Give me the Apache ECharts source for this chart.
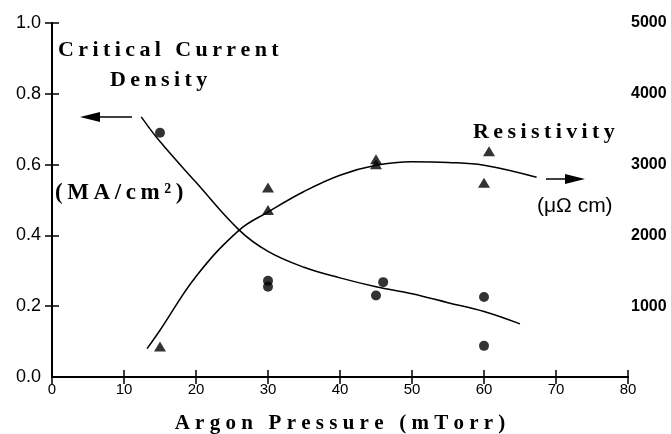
<!DOCTYPE html>
<html>
<head>
<meta charset="utf-8">
<script src="https://cdn.jsdelivr.net/npm/echarts@6/dist/echarts.min.js"></script>
<style>
  html, body { margin: 0; padding: 0; background: #fff; }
  #chart { width: 671px; height: 434px; }
</style>
</head>
<body>
<div id="chart"></div>
<script>
// measured points
const densityX = [15, 30, 30, 45, 46, 60, 60];
const densityY = [0.69, 0.272, 0.255, 0.23, 0.268, 0.226, 0.088];
const resistX = [15, 30, 30, 45, 45, 60, 60.7];
const resistY = [430, 2675, 2360, 3075, 3005, 2745, 3190];

// hand-drawn fit curves
const densityFitX = [12.4, 15, 20, 26, 30, 35, 40, 45, 50, 55, 60, 65];
const densityFitY = [0.735, 0.665, 0.55, 0.415, 0.355, 0.31, 0.28, 0.255, 0.235, 0.21, 0.185, 0.15];
const resistFitX = [13.2, 15, 20, 26, 30, 35, 40, 45, 50, 55, 60, 67.3];
const resistFitY = [400, 660, 1420, 2075, 2330, 2620, 2850, 2990, 3040, 3030, 2990, 2820];

const pressureTicks = [0, 10, 20, 30, 40, 50, 60, 70, 80];

const zip = (a, b) => a.map((v, i) => [v, b[i]]);
// the original lettering is widely spaced, fake it with narrow spaces
const spaced = (s, sep) => s.split("").join(sep || "\u2009");

const chart = echarts.init(document.getElementById("chart"));

const axisLine = { lineStyle: { color: "#000", width: 2 } };
const tick = { inside: true, length: 7, lineStyle: { color: "#000", width: 1.5 } };
const sans = "Liberation Sans";
const serif = "Liberation Serif";

const option = {
  backgroundColor: "#fff",
  animation: false,
  grid: { left: 52, right: 43, top: 23, bottom: 57, containLabel: false, outerBoundsMode: "none" },
  xAxis: [
    {
      type: "value",
      min: pressureTicks[0],
      max: pressureTicks[pressureTicks.length - 1],
      interval: 10,
      axisLine: axisLine,
      axisTick: tick,
      splitLine: { show: false },
      axisLabel: { color: "#000", fontSize: 15, fontFamily: sans, margin: 5 },
      name: spaced("Argon Pressure (mTorr)", "\u2005"),
      nameLocation: "middle",
      nameGap: 36,
      nameTextStyle: { color: "#000", fontSize: 21, fontFamily: serif, fontWeight: "bold" }
    },
    {
      type: "value",
      position: "top",
      min: 0,
      max: 80,
      interval: 10,
      axisLine: axisLine,
      axisTick: tick,
      axisLabel: { show: false },
      splitLine: { show: false }
    }
  ],
  yAxis: [
    {
      type: "value",
      min: 0,
      max: 1,
      interval: 0.2,
      axisLine: { show: true, lineStyle: { color: "#000", width: 2 } },
      axisTick: { show: true, inside: true, length: 7, lineStyle: { color: "#000", width: 1.5 } },
      splitLine: { show: false },
      axisLabel: {
        color: "#000", fontSize: 18, fontFamily: sans, margin: 11,
        formatter: v => v.toFixed(1)
      }
    },
    {
      type: "value",
      position: "right",
      min: 0,
      max: 5000,
      interval: 1000,
      axisLine: { show: true, lineStyle: { color: "#000", width: 2 } },
      axisTick: { show: true, inside: true, length: 7, lineStyle: { color: "#000", width: 1.5 } },
      splitLine: { show: false },
      axisLabel: {
        color: "#000", fontSize: 16, fontFamily: sans, fontWeight: "bold", margin: 3,
        showMinLabel: false,
        formatter: v => String(v)
      }
    }
  ],
  series: [
    {
      type: "line",
      data: zip(densityFitX, densityFitY),
      smooth: 0.4,
      showSymbol: false,
      lineStyle: { color: "#000", width: 1.5 },
      z: 2
    },
    {
      type: "line",
      yAxisIndex: 1,
      data: zip(resistFitX, resistFitY),
      smooth: 0.4,
      showSymbol: false,
      lineStyle: { color: "#000", width: 1.5 },
      z: 2
    },
    {
      type: "scatter",
      data: zip(densityX, densityY),
      symbol: "circle",
      symbolSize: 10,
      itemStyle: { color: "#000" },
      z: 3
    },
    {
      type: "scatter",
      yAxisIndex: 1,
      data: zip(resistX, resistY),
      symbol: "triangle",
      symbolSize: [12, 10],
      itemStyle: { color: "#000" },
      z: 3
    }
  ],
  graphic: [
    { type: "text", left: 58, top: 39, style: { text: spaced("Critical Current"), font: "bold 22px " + serif, fill: "#000" } },
    { type: "text", left: 110, top: 69, style: { text: spaced("Density"), font: "bold 22px " + serif, fill: "#000" } },
    { type: "text", left: 55, top: 182, style: { text: spaced("(MA/cm²)"), font: "bold 23px " + serif, fill: "#000" } },
    { type: "text", left: 473, top: 121, style: { text: spaced("Resistivity"), font: "bold 22px " + serif, fill: "#000" } },
    { type: "text", left: 537, top: 196, style: { text: "(μΩ cm)", font: "21px " + sans, fill: "#000" } },
    // left arrow
    { type: "line", shape: { x1: 132, y1: 117, x2: 98, y2: 117 }, style: { stroke: "#000", lineWidth: 1.5 } },
    { type: "polygon", shape: { points: [[80, 117], [100, 112], [100, 122]] }, style: { fill: "#000" } },
    // right arrow
    { type: "line", shape: { x1: 546, y1: 179, x2: 568, y2: 179 }, style: { stroke: "#000", lineWidth: 1.5 } },
    { type: "polygon", shape: { points: [[585, 179], [565, 174], [565, 184]] }, style: { fill: "#000" } }
  ]
};

chart.setOption(option);
</script>
</body>
</html>
